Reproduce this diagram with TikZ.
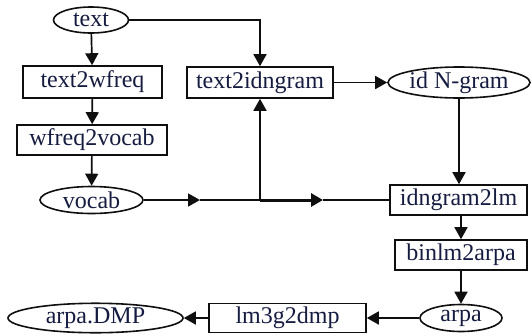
\documentclass[tikz,border=0pt]{standalone}
\usepackage{fontspec}
\setmainfont{Liberation Serif}
\usetikzlibrary{arrows.meta,shapes.geometric}
\definecolor{labelink}{RGB}{22,28,64}
\definecolor{edgeink}{RGB}{15,15,15}
\tikzset{
  every node/.style={font=\fontsize{24}{26}\selectfont, text=labelink, inner sep=0pt},
  procbox/.style={draw=edgeink, line width=1.6pt, rectangle, fill=white},
  databox/.style={draw=edgeink, line width=1.6pt, ellipse, fill=white},
  flow/.style={draw=edgeink, line width=1.7pt, -{Triangle[length=12pt,width=13pt]}},
  plain/.style={draw=edgeink, line width=1.7pt},
}
\begin{document}
\begin{tikzpicture}[x=1pt, y=-1pt]
  \useasboundingbox (0,0) rectangle (532,335);

  % data files
  \node[databox, minimum width=75pt,  minimum height=26pt] (text)    at (91,20)    {text};
  \node[databox, minimum width=103pt, minimum height=27pt] (vocab)   at (91.5,200) {vocab};
  \node[databox, minimum width=142pt, minimum height=31pt] (idng)    at (459,82.5) {id N-gram};
  \node[databox, minimum width=82pt,  minimum height=27pt] (arpa)    at (461,318)  {arpa};
  \node[databox, minimum width=175pt, minimum height=29pt] (arpadmp) at (95.5,318) {arpa.DMP};

  % tools
  \node[procbox, minimum width=139pt, minimum height=32pt] (t2wf)  at (92.5,82)   {text2wfreq};
  \node[procbox, minimum width=150pt, minimum height=30pt] (wf2v)  at (92,140)    {wfreq2vocab};
  \node[procbox, minimum width=146pt, minimum height=31pt] (t2idn) at (260,82.5)  {text2idngram};
  \node[procbox, minimum width=137pt, minimum height=30pt] (idn2lm) at (458.5,200) {idngram2lm};
  \node[procbox, minimum width=132pt, minimum height=30pt] (bin2a) at (461,255)   {binlm2arpa};
  \node[procbox, minimum width=157pt, minimum height=29pt] (lm3g)  at (287.5,318) {lm3g2dmp};

  % routing points on the vocab line
  \coordinate (m1) at (200,200);
  \coordinate (j)  at (260,200);
  \coordinate (m2) at (323,200);

  % left column
  \draw[flow] (text) -- (t2wf);
  \draw[flow] (t2wf) -- (wf2v);
  \draw[flow] (wf2v) -- (vocab);

  % text feeds text2idngram
  \draw[flow] (text.east) -| (t2idn.north);
  \draw[flow] (t2idn) -- (idng);
  \draw[flow] (idng.south) -- (idng.south |- idn2lm.north);

  % vocab feeds text2idngram and idngram2lm
  \draw[flow] (vocab.east) -- (m1);
  \draw[plain] (m1) -- (j);
  \draw[flow] (j) -- (t2idn.south);
  \draw[flow, line width=3pt] (j) -- (m2);
  \draw[plain] (m2) -- (idn2lm.west);

  % right column and bottom row
  \draw[flow] (idn2lm.south -| bin2a) -- (bin2a.north);
  \draw[flow] (bin2a) -- (arpa);
  \draw[flow] (arpa) -- (lm3g);
  \draw[flow] (lm3g) -- (arpadmp);
\end{tikzpicture}
\end{document}
